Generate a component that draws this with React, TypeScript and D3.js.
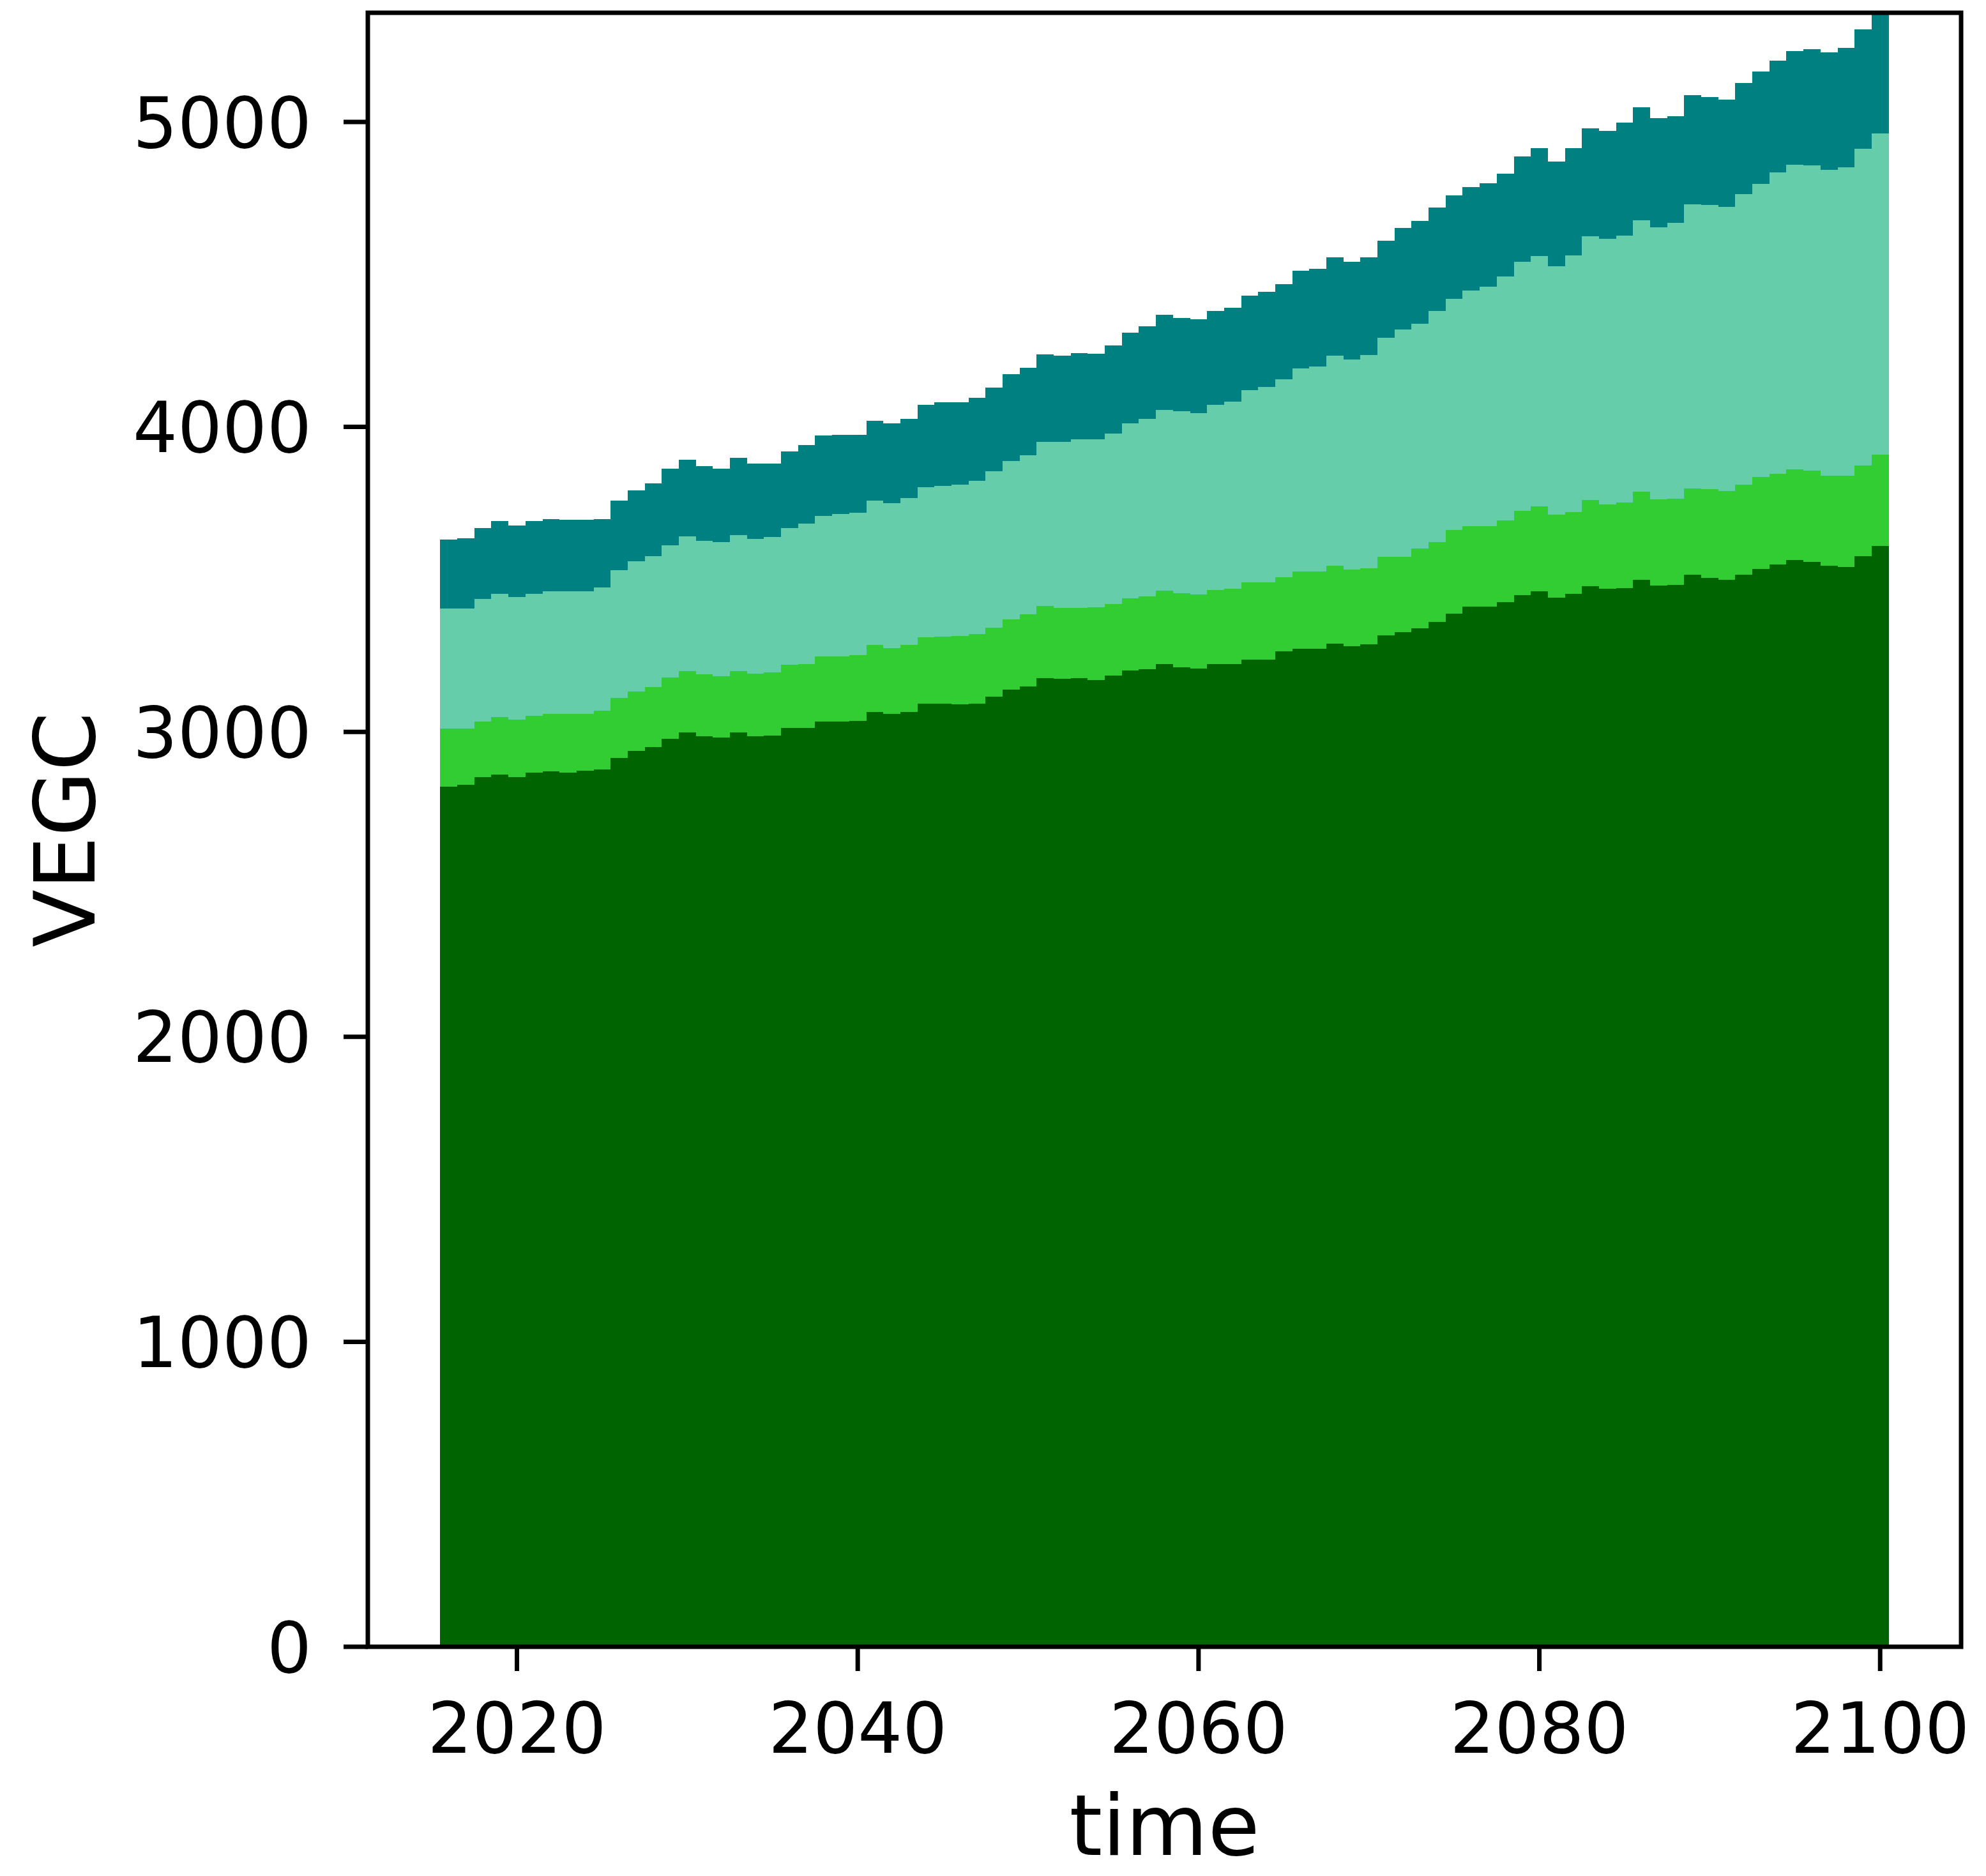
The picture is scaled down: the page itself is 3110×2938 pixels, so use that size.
import React from 'react';
import * as d3 from 'd3';

const years: number[] = d3.range(2016, 2101);

const darkGreen = [
  2821, 2826, 2851, 2861, 2851, 2866, 2870, 2866, 2872, 2877,
  2915, 2938, 2950, 2978, 2999, 2985, 2982, 2999, 2985, 2988,
  3012, 3014, 3034, 3034, 3037, 3065, 3058, 3065, 3093, 3093,
  3090, 3093, 3116, 3139, 3149, 3177, 3175, 3177, 3170, 3184,
  3202, 3205, 3222, 3212, 3208, 3223, 3223, 3238, 3238, 3264,
  3272, 3272, 3290, 3281, 3288, 3317, 3328, 3339, 3361, 3388,
  3410, 3410, 3425, 3448, 3462, 3440, 3452, 3477, 3469, 3472,
  3498, 3480, 3483, 3516, 3504, 3498, 3516, 3534, 3549, 3564,
  3558, 3544, 3540, 3576, 3609,
];
const limeGreen = [
  189, 184, 183, 188, 190, 187, 188, 192, 188, 192,
  196, 195, 196, 201, 201, 203, 201, 201, 206, 208,
  208, 208, 213, 213, 215, 220, 217, 220, 218, 220,
  224, 227, 225, 229, 237, 235, 232, 230, 239, 235,
  237, 239, 241, 243, 243, 243, 247, 252, 252, 243,
  253, 253, 255, 251, 249, 258, 247, 262, 262, 274,
  265, 265, 269, 277, 277, 272, 269, 283, 276, 281,
  289, 283, 282, 283, 291, 291, 295, 301, 298, 297,
  299, 297, 301, 297, 300,
];
const aquamarine = [
  394, 394, 401, 404, 401, 400, 404, 404, 402, 405,
  419, 426, 431, 433, 441, 439, 439, 446, 442, 442,
  449, 460, 461, 467, 467, 474, 476, 482, 492, 494,
  496, 503, 514, 520, 520, 538, 543, 552, 550, 559,
  572, 582, 592, 596, 595, 607, 613, 630, 642, 649,
  667, 674, 688, 689, 699, 717, 745, 738, 758, 759,
  772, 784, 799, 817, 821, 814, 841, 866, 871, 875,
  891, 891, 905, 931, 932, 933, 952, 962, 988, 998,
  1000, 1002, 1010, 1038, 1054,
];
const teal = [
  227, 231, 234, 239, 234, 239, 235, 233, 233, 223,
  228, 232, 237, 251, 251, 244, 242, 252, 247, 242,
  251, 259, 263, 261, 256, 261, 260, 260, 269, 274,
  271, 272, 273, 284, 288, 288, 283, 284, 281, 290,
  297, 303, 312, 306, 306, 307, 308, 310, 310, 312,
  320, 320, 324, 320, 321, 318, 333, 336, 338, 338,
  340, 339, 338, 344, 354, 345, 352, 354, 354, 370,
  370, 358, 348, 357, 355, 351, 364, 368, 367, 373,
  381, 385, 392, 392, 440,
];

const seriesKeys = ['darkGreen', 'limeGreen', 'aquamarine', 'teal'];
const seriesColors = ['#006400', '#32cd32', '#66cdaa', '#008080'];
const yTicks = [0, 1000, 2000, 3000, 4000, 5000];
const xTicks = [2020, 2040, 2060, 2080, 2100];
const xLabel = 'time';
const yLabel = 'VEGC';

export default function App() {
  const W = 3110;
  const H = 2938;
  const L = 576, R = 3071, T = 20, B = 2579;
  const x = d3.scaleLinear().domain([2011.25, 2104.75]).range([L, R]);
  const y = d3.scaleLinear().domain([0, 5358]).range([B, T]);

  const table = years.map((yr, i) => ({
    year: yr,
    darkGreen: darkGreen[i],
    limeGreen: limeGreen[i],
    aquamarine: aquamarine[i],
    teal: teal[i],
  }));
  const stacked = d3.stack<any>().keys(seriesKeys)(table);

  const font = 'DejaVu Sans, sans-serif';
  const lw = 7;
  const tickLen = 38;

  return (
    <svg
      width={W}
      height={H}
      viewBox={`0 0 ${W} ${H}`}
      style={{ position: 'absolute', left: 0, top: 0, display: 'block', background: '#fff' }}
    >
      <defs>
        <clipPath id="plotClip">
          <rect x={L} y={T} width={R - L} height={B - T} />
        </clipPath>
      </defs>
      <rect x={0} y={0} width={W} height={H} fill="#fff" />
      <g clipPath="url(#plotClip)">
        {stacked.map((layer, li) => (
          <g key={seriesKeys[li]} fill={seriesColors[li]}>
            {layer.map((d: any, i: number) => {
              const x0 = x(d.data.year - 0.5);
              const x1 = x(d.data.year + 0.5);
              const y0 = y(d[0]);
              const y1 = y(d[1]);
              return (
                <rect
                  key={i}
                  x={x0}
                  y={y1}
                  width={x1 - x0}
                  height={y0 - y1}
                  shapeRendering="crispEdges"
                />
              );
            })}
          </g>
        ))}
      </g>
      {/* y ticks */}
      <g>
        {yTicks.map((t) => (
          <g key={t}>
            <line x1={L - tickLen} x2={L} y1={y(t)} y2={y(t)} stroke="#000" strokeWidth={lw} />
            <text
              x={L - tickLen - 50}
              y={y(t)}
              dy="0.36em"
              textAnchor="end"
              fontFamily={font}
              fontSize={110}
              fill="#000"
            >
              {t}
            </text>
          </g>
        ))}
      </g>
      {/* x ticks */}
      <g>
        {xTicks.map((t) => (
          <g key={t}>
            <line x1={x(t)} x2={x(t)} y1={B} y2={B + tickLen} stroke="#000" strokeWidth={lw} />
            <text
              x={x(t)}
              y={B + tickLen + 128}
              textAnchor="middle"
              fontFamily={font}
              fontSize={110}
              fill="#000"
            >
              {t}
            </text>
          </g>
        ))}
      </g>
      <rect x={L} y={T} width={R - L} height={B - T} fill="none" stroke="#000" strokeWidth={lw} />
      <text
        x={(L + R) / 2}
        y={2905}
        textAnchor="middle"
        fontFamily={font}
        fontSize={132}
        fill="#000"
      >
        {xLabel}
      </text>
      <text
        transform={`translate(148, ${(T + B) / 2}) rotate(-90)`}
        textAnchor="middle"
        fontFamily={font}
        fontSize={132}
        fill="#000"
      >
        {yLabel}
      </text>
    </svg>
  );
}
